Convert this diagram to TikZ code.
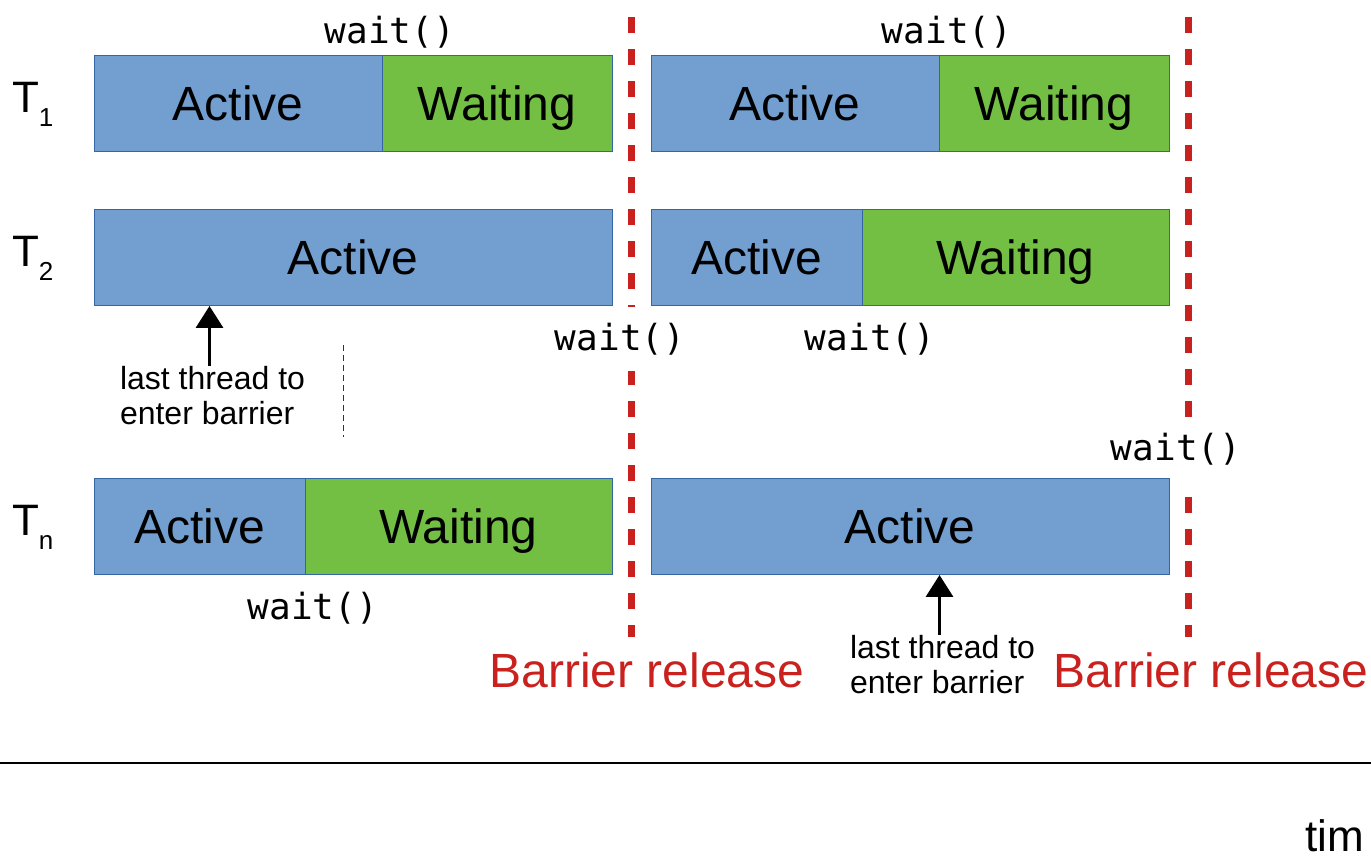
\documentclass[tikz,border=0pt]{standalone}
\usepackage{xcolor}
\usepackage{fontspec}
\setmainfont{Liberation Sans}
\newfontfamily\codefont{DejaVu Sans Mono}
\usepackage{tikz}
\usetikzlibrary{arrows.meta,positioning}

\definecolor{actblue}{HTML}{729FCF}
\definecolor{waitgreen}{HTML}{72BF44}
\definecolor{edgeblue}{HTML}{3465A4}
\definecolor{barred}{HTML}{C9211E}

\newcommand{\tname}[1]{T\raisebox{-7pt}{\fontsize{13}{13}\selectfont #1}}

\begin{document}
\begin{tikzpicture}[
			x = 0.5pt, y = -0.5pt,
			every node/.style = {inner sep = 0pt, outer sep = 0pt},
			phase/.style = {draw = edgeblue, line width = 0.5pt, minimum height = 48pt, text height = 17pt, text depth = 0pt, font = \fontsize{24}{24}\selectfont},
			act/.style = {phase, fill = actblue},
			wt/.style = {phase, fill = waitgreen},
			call/.style = {fill = white, inner xsep = 2pt, inner ysep = 8pt, font = \codefont\fontsize{18}{18}\selectfont},
			release/.style = {barred, line width = 3.5pt, dash pattern = on 8pt off 8pt},
			relabel/.style = {text = barred, anchor = base, font = \fontsize{24}{24}\selectfont},
			thr/.style = {anchor = base west, font = \fontsize{22}{22}\selectfont},
			note/.style = {anchor = north west, align = left, font = \fontsize{16}{17.5}\selectfont},
			up/.style = {-{Triangle[width = 13.5pt, length = 11pt]}, line width = 1.75pt}
			]

			\useasboundingbox (0,0) rectangle (1371,860);

			\def\rowa{104}
			\def\rowb{258}
			\def\rown{527}

			% barrier releases
			\draw[release] (631,17) -- (631,637);
			\draw[release] (1188,17) -- (1188,637);

			\node[call] (c1l) at (390,32) {wait()};
			\node[call] (c1r) at (947,32) {wait()};
			\node[call] (c2l) at (620,339) {wait()};
			\node[call] (c2r) at (870,339) {wait()};
			\node[call] (cnl) at (313,608) {wait()};
			\node[call] (cnr) at (1176,449) {wait()};

			\node[thr] (th1) at (12,113) {\tname{1}};
			\node[thr] (th2) at (12,267) {\tname{2}};
			\node[thr] (thn) at (12,536) {\tname{n}};

			% T1
			\node[act, minimum width = 144pt, anchor = west] (act1l) at (94,\rowa) {Active};
			\node[wt, minimum width = 115pt, right = 0pt of act1l] (wait1l) {Waiting};
			\node[act, minimum width = 144pt, anchor = west] (act1r) at (651,\rowa) {Active};
			\node[wt, minimum width = 115pt, right = 0pt of act1r] (wait1r) {Waiting};

			% T2
			\node[act, minimum width = 259pt, anchor = west] (act2l) at (94,\rowb) {Active};
			\node[act, minimum width = 105.5pt, anchor = west] (act2r) at (651,\rowb) {Active};
			\node[wt, minimum width = 153.5pt, right = 0pt of act2r] (wait2r) {Waiting};

			% Tn
			\node[act, minimum width = 105.5pt, anchor = west] (actnl) at (94,\rown) {Active};
			\node[wt, minimum width = 153.5pt, right = 0pt of actnl] (waitnl) {Waiting};
			\node[act, minimum width = 259pt, anchor = west] (actnr) at (651,\rown) {Active};

			\node[note] (lastl) at (120,366) {last thread to\\enter barrier};
			\node[note] (lastr) at (850,635) {last thread to\\enter barrier};
			\draw[up] ([xshift = -1.5pt]lastl.north) -- ([xshift = -1.5pt]lastl.north |- act2l.south);
			\draw[up] ([xshift = -1.5pt]lastr.north) -- ([xshift = -1.5pt]lastr.north |- actnr.south);

			\draw[densely dashed, line width = 0.4pt, black!80] (343,345) -- (343,437);

			\node[relabel] (rel1) at (647,688) {Barrier release};
			\node[relabel] (rel2) at (1211,688) {Barrier release};

			\draw[line width = 1.4pt] (0,763) -- (1371,763);
			\node[thr, anchor = base east] (tlabel) at (1364,851) {tim};

		\end{tikzpicture}
\end{document}
